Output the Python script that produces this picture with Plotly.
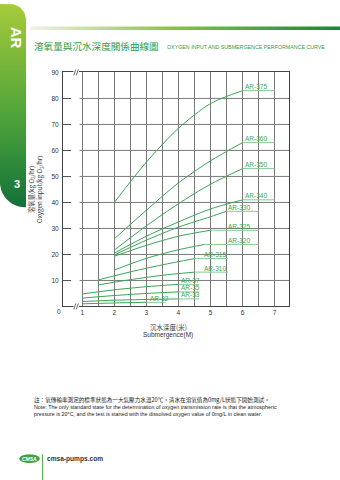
import numpy as np
import plotly.graph_objects as go

W, H = 340, 480

# ---- oxygen input vs. submergence, per aerator model ----
AR375_DEPTH = [2, 3, 4, 5, 6]
AR375_O2 = [40, 55.5, 68.5, 78, 83]
AR360_DEPTH = [2, 3, 4, 5, 6]
AR360_O2 = [26, 37, 47.5, 56, 63]
AR350_DEPTH = [2, 3, 4, 5, 6]
AR350_O2 = [21.7, 31, 39.5, 47, 53]
AR340_DEPTH = [2, 3, 4, 5, 6]
AR340_O2 = [20.5, 27, 32.5, 37.5, 41]
AR330_DEPTH = [2, 3, 4, 5, 5.5]
AR330_O2 = [19.8, 25.5, 30.5, 34.5, 36.6]
AR325_DEPTH = [2, 3, 4, 5]
AR325_O2 = [19.3, 23.5, 27, 29.3]
AR320_DEPTH = [2, 3, 4, 4.8]
AR320_O2 = [14, 18.5, 21.8, 23.8]
AR315_DEPTH = [1.5, 2.5, 3.5, 4.5]
AR315_O2 = [10.2, 13.3, 16.0, 18.4]
AR310_DEPTH = [1.5, 2.5, 3.5, 4.5]
AR310_O2 = [8.3, 10.3, 12.0, 13.2]
AR37_DEPTH = [1, 2, 3, 4]
AR37_O2 = [4.8, 6.4, 7.6, 8.5]
AR35_DEPTH = [1, 2, 3, 4]
AR35_O2 = [3.2, 4.2, 5.0, 5.6]
AR33_DEPTH = [1, 2, 3, 4]
AR33_O2 = [1.9, 2.4, 2.7, 2.9]
AR32_DEPTH = [1, 2, 3]
AR32_O2 = [1.0, 1.35, 1.6]

MODELS = ["AR-375", "AR-360", "AR-350", "AR-340", "AR-330", "AR-325", "AR-320",
          "AR-315", "AR-310", "AR-37", "AR-35", "AR-33", "AR-32"]
DEPTHS = [AR375_DEPTH, AR360_DEPTH, AR350_DEPTH, AR340_DEPTH, AR330_DEPTH, AR325_DEPTH,
          AR320_DEPTH, AR315_DEPTH, AR310_DEPTH, AR37_DEPTH, AR35_DEPTH, AR33_DEPTH, AR32_DEPTH]
O2 = [AR375_O2, AR360_O2, AR350_O2, AR340_O2, AR330_O2, AR325_O2,
      AR320_O2, AR315_O2, AR310_O2, AR37_O2, AR35_O2, AR33_O2, AR32_O2]

X_TICKS = [1, 2, 3, 4, 5, 6, 7]
Y_TICKS = [10, 20, 30, 40, 50, 60, 70, 80, 90]

# label placement: (leader-line end x, label x) in axis units
LABEL_LAYOUT = {
    "AR-375": (7.0, 6.0), "AR-360": (7.0, 6.0), "AR-350": (7.0, 6.0), "AR-340": (7.0, 6.0),
    "AR-330": (6.5, 5.5), "AR-325": (6.5, 5.5), "AR-320": (6.5, 5.5),
    "AR-315": (5.55, 4.75), "AR-310": (5.55, 4.75),
    "AR-37": (4.65, 4.03), "AR-35": (4.65, 4.03), "AR-33": (4.65, 4.03), "AR-32": (3.6, 3.05),
}

GREEN = "#3aa655"
LEADER = "#86c993"
GRID = "#7a7a7a"
FONT = "Liberation Sans, Arial, sans-serif"
CJK = "Noto Sans CJK TC, Noto Sans CJK SC, sans-serif"

# plot frame in pixels
PX_L, PX_R, PX_T, PX_B = 63, 289, 69, 305
X_RANGE = [0.4, 7.45]
Y_RANGE = [0, 90]


def px(x):
    return x / W


def py(y):
    return 1 - y / H


fig = go.Figure()

for name, xs, ys in zip(MODELS, DEPTHS, O2):
    fig.add_trace(go.Scatter(x=xs, y=ys, mode="lines",
                             line=dict(color=GREEN, width=1, shape="spline", smoothing=0.8),
                             hoverinfo="skip", showlegend=False))
    lead_end, lab_x = LABEL_LAYOUT[name]
    fig.add_trace(go.Scatter(x=[xs[-1], lead_end], y=[ys[-1], ys[-1]], mode="lines",
                             line=dict(color=LEADER, width=1),
                             hoverinfo="skip", showlegend=False))
    fig.add_annotation(x=lab_x, y=ys[-1], text=name, showarrow=False,
                       xanchor="left", yanchor="bottom", yshift=-1.5,
                       font=dict(family=FONT, size=6.5, color=GREEN))

# horizontal grid, starting just right of the short inside ticks
shapes = []
for yv in Y_TICKS[:-1]:
    shapes.append(dict(type="line", xref="x", yref="y", x0=0.92, x1=X_RANGE[1], y0=yv, y1=yv,
                       line=dict(color=GRID, width=1), layer="below"))

# axis-break marks on the top frame and on the base line
for yy in (PX_T, PX_B):
    shapes.append(dict(type="rect", xref="paper", yref="paper",
                       x0=px(73.5), x1=px(79), y0=py(yy + 2), y1=py(yy - 2),
                       fillcolor="white", line=dict(width=0), layer="above"))
    for dx in (0, 2.5):
        shapes.append(dict(type="line", xref="paper", yref="paper",
                           x0=px(73.8 + dx), x1=px(75.8 + dx), y0=py(yy + 3), y1=py(yy - 3),
                           line=dict(color="#444", width=0.8), layer="above"))

# ---- page decorations on an overlay in pixel coordinates ----
# left side tab (rounded top-right and bottom-left)
t = np.linspace(0, np.pi / 2, 16)
r1, r2 = 16, 25
tab_x = [0.0]
tab_y = [0.0]
tab_x += list(26 - r1 + r1 * np.sin(t))
tab_y += list(r1 - r1 * np.cos(t))
tab_x += [26, 26]
tab_y += [r1, 205]
tab_x += list(r2 - r2 * np.sin(t))
tab_y += list(205 - r2 + r2 * np.cos(t))
tab_x += [0]
tab_y += [0]
fig.add_trace(go.Scatter(x=tab_x, y=tab_y, xaxis="x2", yaxis="y2", mode="lines",
                         line=dict(width=0), fill="toself",
                         fillgradient=dict(type="vertical", start=0, stop=205,
                                           colorscale=[[0, "#a6cb3a"], [0.55, "#4ea33a"], [1, "#12703a"]]),
                         hoverinfo="skip", showlegend=False))

# header rule
fig.add_trace(go.Scatter(x=[30, 340, 340, 30, 30], y=[22.8, 22.8, 26.2, 26.2, 22.8],
                         xaxis="x2", yaxis="y2", mode="lines", line=dict(width=0), fill="toself",
                         fillgradient=dict(type="horizontal", start=30, stop=340,
                                           colorscale=[[0, "#f0f2ea"], [0.45, "#8cc43e"], [1, "#108a3c"]]),
                         hoverinfo="skip", showlegend=False))

# footer logo
shapes.append(dict(type="circle", xref="paper", yref="paper",
                   x0=px(19.5), x1=px(39.5), y0=py(462.5), y1=py(454.5),
                   fillcolor="#3ea346", line=dict(color="#2c8a3a", width=0.6)))
shapes.append(dict(type="line", xref="paper", yref="paper",
                   x0=px(42.5), x1=px(42.5), y0=py(454), y1=py(480),
                   line=dict(color="#5cb04a", width=1)))

fig.update_layout(shapes=shapes)

ann = [
    dict(x=px(16), y=py(34), text="<b>AR</b>", textangle=90,
         font=dict(family=FONT, size=15, color="white")),
    dict(x=px(17), y=py(182), text="<b>3</b>",
         font=dict(family=FONT, size=11, color="white")),
    dict(x=px(31.5), y=py(42.5), text="溶氧量與沉水深度關係曲線圖", xanchor="left",
         font=dict(family=CJK, size=9.6, color="#2f9b3f")),
    dict(x=px(165), y=py(43), text="OXYGEN INPUT AND SUBMERGENCE PERFORMANCE CURVE", xanchor="left",
         font=dict(family=FONT, size=5.3, color="#2f9b3f")),
    dict(x=px(36.5), y=py(187), text="溶氧量(kg O<sub>2</sub>/hr)<br>Oxygen input(kg O<sub>2</sub>/hr)",
         textangle=-90, font=dict(family=CJK, size=6.3, color="#333")),
    dict(x=px(59), y=py(310.5), text="0", font=dict(family=FONT, size=6.5, color="#333")),
    dict(x=px(168), y=py(325.5), text="沉水深度(米)", font=dict(family=CJK, size=6.5, color="#333")),
    dict(x=px(168), y=py(333.5), text="Submergence(M)", font=dict(family=FONT, size=6.5, color="#333")),
    dict(x=px(31.5), y=py(399), xanchor="left",
         text="註：氧傳輸率測定的標準狀態為一大氣壓力水溫20℃，清水在溶氧值為0mg/L狀態下開始測試。",
         font=dict(family=CJK, size=5.6, color="#222")),
    dict(x=px(31.5), y=py(406.5), xanchor="left",
         text="Note: The only standard state for the determination of oxygen transmission rate is that the atmospheric",
         font=dict(family=FONT, size=5.35, color="#222")),
    dict(x=px(31.5), y=py(413.5), xanchor="left",
         text="pressure is 20°C, and the test is started with the dissolved oxygen value of 0mg/L in clean water.",
         font=dict(family=FONT, size=5.35, color="#222")),
    dict(x=px(29.5), y=py(458.5), text="<b><i>CMSA</i></b>",
         font=dict(family=FONT, size=5, color="white")),
    dict(x=px(45), y=py(458.5), xanchor="left", text="<b>cmsa-pumps.com</b>",
         font=dict(family=FONT, size=6.6, color="#333")),
]
for a in ann:
    a.setdefault("xref", "paper")
    a.setdefault("yref", "paper")
    a.setdefault("xanchor", "center")
    a.setdefault("yanchor", "middle")
    a.setdefault("showarrow", False)
    fig.add_annotation(**a)

axis_font = dict(family=FONT, size=6.5, color="#333")
fig.update_layout(
    width=W, height=H, autosize=False,
    margin=dict(l=0, r=0, t=0, b=0, pad=0),
    paper_bgcolor="white", plot_bgcolor="rgba(0,0,0,0)",
    hovermode=False,
    xaxis=dict(domain=[PX_L / W, PX_R / W], range=X_RANGE,
               tickvals=X_TICKS, ticktext=[str(v) for v in X_TICKS],
               showgrid=True, gridcolor=GRID, gridwidth=1,
               minor=dict(tickvals=[v + 0.5 for v in X_TICKS[:-1]], showgrid=True,
                          gridcolor=GRID, gridwidth=1, ticks=""),
               ticks="", tickfont=axis_font, zeroline=False,
               showline=True, linecolor="#444", linewidth=1, mirror=True, fixedrange=True),
    yaxis=dict(domain=[1 - PX_B / H, 1 - PX_T / H], range=Y_RANGE,
               tickvals=Y_TICKS, ticktext=[str(v) for v in Y_TICKS],
               showgrid=False, ticks="inside", ticklen=8, tickcolor="#555", tickwidth=1,
               tickfont=axis_font, zeroline=False, ticklabelstandoff=2,
               showline=True, linecolor="#444", linewidth=1, mirror=True, fixedrange=True),
    xaxis2=dict(domain=[0, 1], range=[0, W], visible=False, anchor="y2", fixedrange=True),
    yaxis2=dict(domain=[0, 1], range=[H, 0], visible=False, anchor="x2", fixedrange=True),
)

fig.write_html("out.html")
